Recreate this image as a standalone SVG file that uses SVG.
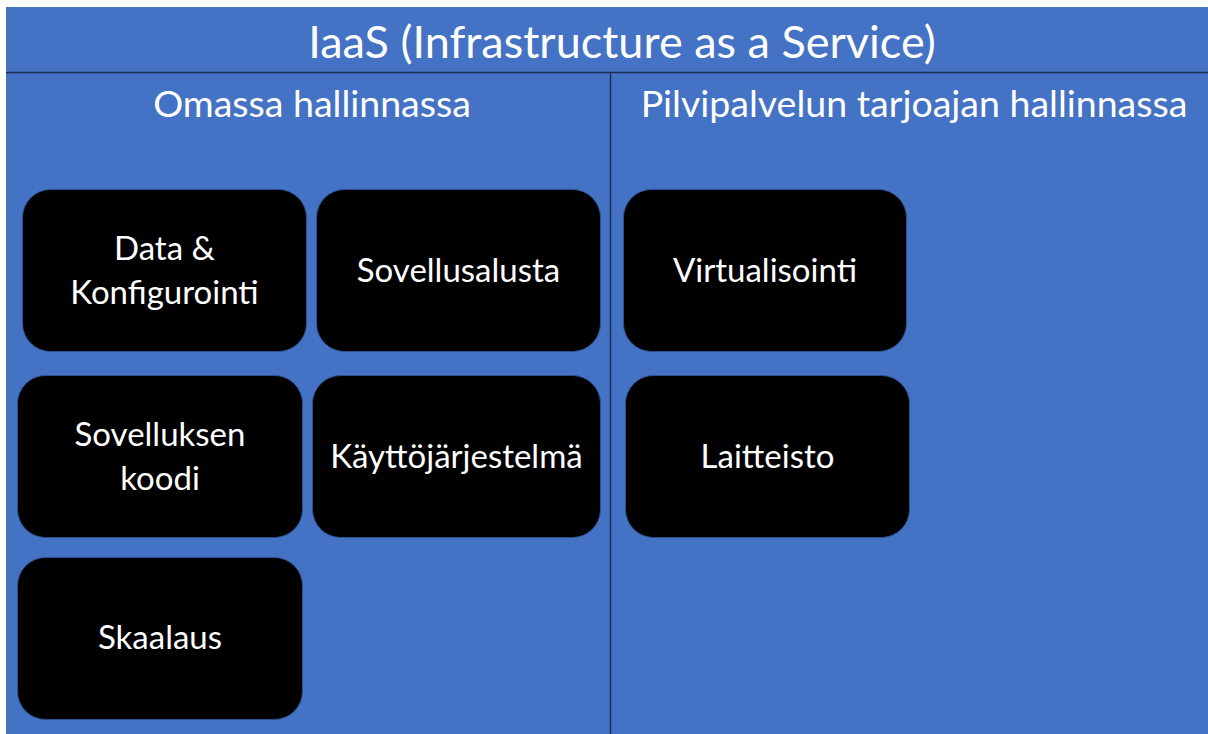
<svg xmlns="http://www.w3.org/2000/svg" width="1208" height="734" viewBox="0 0 1208 734">
<style>
.bg{fill:#4472C4}
.ln{stroke:#1C2E52;stroke-width:1.5;fill:none}
.box{fill:#000000;stroke:#2F528F;stroke-width:1}
.t{font-family:Lato,"Liberation Sans",sans-serif;fill:#FFFFFF;text-anchor:middle}
.title{font-size:45px}
.hdr{font-size:37.5px}
.lbl{font-size:33px}
</style>
<rect x="0" y="0" width="1208" height="734" fill="#FFFFFF"/>
<rect class="bg" x="6" y="7" width="1202" height="727"/>
<g id="connectors">
<line class="ln" x1="6" y1="72.5" x2="1208" y2="72.5"/>
<line class="ln" x1="610.5" y1="72.5" x2="610.5" y2="734"/>
</g>
<g id="title"><text class="t title" x="622" y="58">IaaS (Infrastructure as a Service)</text></g>
<g id="hdr-own"><text class="t hdr" x="312" y="117">Omassa hallinnassa</text></g>
<g id="hdr-provider"><text class="t hdr" x="914" y="117">Pilvipalvelun tarjoajan hallinnassa</text></g>
<g id="node-data">
<rect class="box" x="22.5" y="189.5" width="284" height="162" rx="28"/>
<text class="t lbl" x="164.5" y="260">Data &amp;</text>
<text class="t lbl" x="164.5" y="304">Konfigurointi</text>
</g>
<g id="node-sovellusalusta">
<rect class="box" x="316.5" y="189.5" width="284" height="162" rx="28"/>
<text class="t lbl" x="458.5" y="282">Sovellusalusta</text>
</g>
<g id="node-virtualisointi">
<rect class="box" x="623.5" y="189.5" width="283" height="162" rx="28"/>
<text class="t lbl" x="765" y="282">Virtualisointi</text>
</g>
<g id="node-koodi">
<rect class="box" x="17.5" y="375.5" width="285" height="162" rx="28"/>
<text class="t lbl" x="160" y="446">Sovelluksen</text>
<text class="t lbl" x="160" y="490">koodi</text>
</g>
<g id="node-kayttojarjestelma">
<rect class="box" x="312.5" y="375.5" width="288" height="162" rx="28"/>
<text class="t lbl" x="456.5" y="468">Käyttöjärjestelmä</text>
</g>
<g id="node-laitteisto">
<rect class="box" x="625.5" y="375.5" width="284" height="162" rx="28"/>
<text class="t lbl" x="767.5" y="468">Laitteisto</text>
</g>
<g id="node-skaalaus">
<rect class="box" x="17.5" y="557.5" width="285" height="162" rx="28"/>
<text class="t lbl" x="160" y="649">Skaalaus</text>
</g>
</svg>
